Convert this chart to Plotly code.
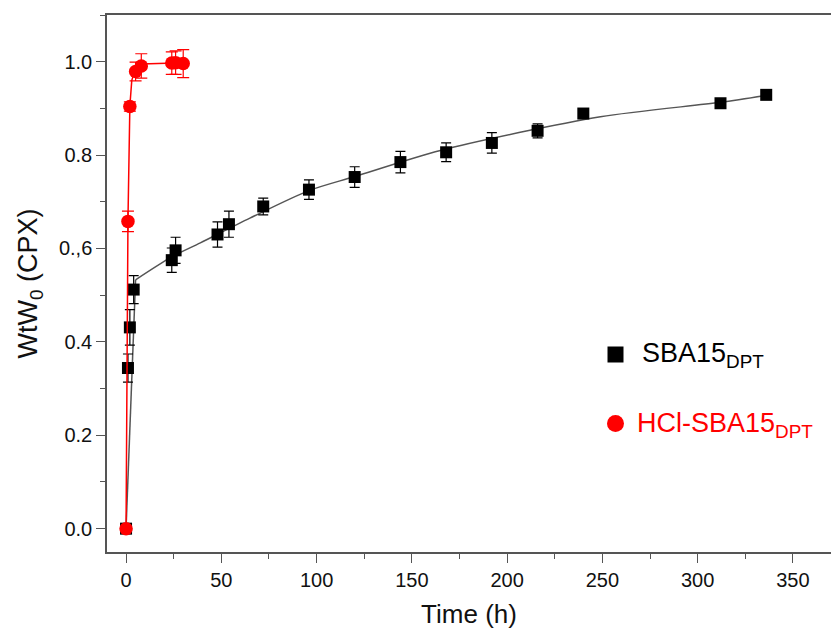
import plotly.graph_objects as go

# Release profile of CPX, SBA15_DPT
sba_time = [0, 1, 2, 4, 24, 26, 48, 54, 72, 96, 120, 144, 168, 192, 216, 240, 312, 336]
sba_value = [0.0, 0.344, 0.431, 0.512, 0.575, 0.596, 0.630, 0.652, 0.690, 0.726,
             0.753, 0.785, 0.806, 0.826, 0.852, 0.889, 0.911, 0.929]
sba_err = [0.0, 0.03, 0.038, 0.03, 0.026, 0.028, 0.027, 0.028, 0.018, 0.021,
           0.022, 0.023, 0.02, 0.022, 0.015, 0.005, 0.005, 0.005]

# Release profile of CPX, HCl-SBA15_DPT
hcl_time = [0, 1, 2, 5, 8, 24, 26, 30]
hcl_value = [0.0, 0.658, 0.904, 0.979, 0.991, 0.997, 0.998, 0.996]
hcl_err = [0.0, 0.022, 0.01, 0.02, 0.026, 0.024, 0.025, 0.03]

# Fitted release curves
sba_fit_burst_time = [0, 5]
sba_fit_burst_value = [0.0, 0.533]
sba_fit_time = [5, 24, 39, 65, 96, 120, 165, 249, 312, 336]
sba_fit_value = [0.533, 0.582, 0.612, 0.665, 0.724, 0.754, 0.810, 0.882, 0.913, 0.928]
hcl_fit_time = [0, 1, 2, 3, 5, 8, 30]
hcl_fit_value = [0.0, 0.66, 0.905, 0.96, 0.985, 0.995, 0.998]

x_ticks = [0, 50, 100, 150, 200, 250, 300, 350]
y_ticks = [0.0, 0.2, 0.4, 0.6, 0.8, 1.0]
y_tick_text = ["0.0", "0.2", "0.4", "0.,6", "0.8", "1.0"]

FONT = "Arial, Liberation Sans, sans-serif"
AXIS = "#555555"

fig = go.Figure()

fig.add_trace(go.Scatter(x=sba_fit_burst_time, y=sba_fit_burst_value, mode="lines",
                         line=dict(color="#555555", width=1.5), showlegend=False,
                         hoverinfo="skip"))
fig.add_trace(go.Scatter(x=sba_fit_time, y=sba_fit_value, mode="lines",
                         line=dict(color="#555555", width=1.5, shape="spline", smoothing=0.8),
                         showlegend=False, hoverinfo="skip"))
fig.add_trace(go.Scatter(x=sba_time, y=sba_value, mode="markers", name="SBA15",
                         marker=dict(symbol="square", size=12, color="black"),
                         error_y=dict(type="data", array=sba_err, color="black",
                                      thickness=1.2, width=5),
                         showlegend=False))

fig.add_trace(go.Scatter(x=hcl_fit_time, y=hcl_fit_value, mode="lines",
                         line=dict(color="red", width=1.5), showlegend=False,
                         hoverinfo="skip"))
fig.add_trace(go.Scatter(x=hcl_time, y=hcl_value, mode="markers", name="HCl-SBA15",
                         marker=dict(symbol="circle", size=13.5, color="red"),
                         error_y=dict(type="data", array=hcl_err, color="red",
                                      thickness=1.2, width=6),
                         showlegend=False))

# Legend drawn by hand: symbols and labels with subscripts
fig.add_shape(type="rect", xref="paper", yref="paper",
              x0=(607.5 - 107) / 724, x1=(623.5 - 107) / 724,
              y0=(552 - 362.5) / 537, y1=(552 - 346.5) / 537,
              fillcolor="black", line=dict(width=0))
fig.add_shape(type="circle", xref="paper", yref="paper",
              x0=(607 - 107) / 724, x1=(624 - 107) / 724,
              y0=(552 - 432) / 537, y1=(552 - 415) / 537,
              fillcolor="red", line=dict(width=0))
fig.add_annotation(xref="paper", yref="paper", x=(640 - 107) / 724, y=(552 - 355) / 537,
                   text="SBA15<sub>DPT</sub>", showarrow=False, xanchor="left",
                   yanchor="middle", font=dict(family=FONT, size=27, color="black"))
fig.add_annotation(xref="paper", yref="paper", x=(635 - 107) / 724, y=(552 - 425) / 537,
                   text="HCl-SBA15<sub>DPT</sub>", showarrow=False, xanchor="left",
                   yanchor="middle", font=dict(family=FONT, size=27, color="red"))

fig.update_layout(
    width=831, height=635,
    margin=dict(l=107, r=0, t=15, b=83),
    paper_bgcolor="white", plot_bgcolor="white",
    font=dict(family=FONT, size=20, color="#111111"),
    xaxis=dict(range=[-10, 370], tickvals=x_ticks, showgrid=False, zeroline=False,
               showline=True, linecolor=AXIS, linewidth=1.5, mirror=True,
               ticks="outside", ticklen=9, tickwidth=1.3, tickcolor=AXIS,
               minor=dict(dtick=25, ticks="outside", ticklen=5, tickwidth=1.3,
                          tickcolor=AXIS),
               tickfont=dict(size=20),
               title=dict(text="Time (h)", font=dict(size=26), standoff=15)),
    yaxis=dict(range=[-0.05, 1.1], tickvals=y_ticks, ticktext=y_tick_text,
               showgrid=False, zeroline=False, showline=True, linecolor=AXIS,
               linewidth=1.5, ticks="outside", ticklen=9, tickwidth=1.3,
               tickcolor=AXIS,
               minor=dict(dtick=0.1, ticks="outside", ticklen=5, tickwidth=1.3,
                          tickcolor=AXIS),
               tickfont=dict(size=20),
               title=dict(text="WtW<sub>0</sub> (CPX)", font=dict(size=27), standoff=13)),
)

fig.write_html("out.html")
